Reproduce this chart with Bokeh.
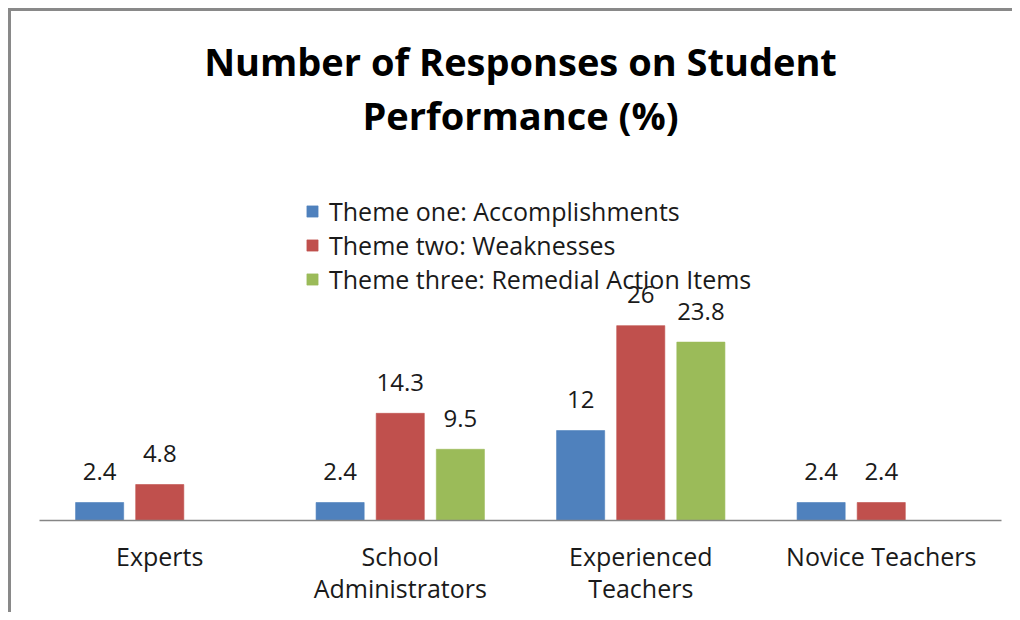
from bokeh.plotting import figure
from bokeh.models import ColumnDataSource, FactorRange, Range1d, Legend, LegendItem, Title
from bokeh.transform import dodge
from bokeh.embed import file_html
from bokeh.resources import INLINE
from bokeh.core.properties import value

categories = ["Experts", "School\nAdministrators", "Experienced\nTeachers", "Novice Teachers"]
series_names = ["Theme one: Accomplishments", "Theme two: Weaknesses", "Theme three: Remedial Action Items"]
theme_one = [2.4, 2.4, 12, 2.4]
theme_two = [4.8, 14.3, 26, 2.4]
theme_three = [float("nan"), 9.5, 23.8, float("nan")]
colors = ["#4F81BD", "#C0504D", "#9BBB59"]
offsets = [-0.25, 0.0, 0.25]
title_lines = ["Number of Responses on Student", "Performance (%)"]

FONT = "Open Sans"

p = figure(
    x_range=FactorRange(factors=categories, range_padding=0),
    y_range=Range1d(0, 50.7),
    width=1004, height=604,
    output_backend="svg", toolbar_location=None,
    min_border_left=28, min_border_right=14,
    min_border_top=129, min_border_bottom=95,
)
p.styles = {"border-top": "3px solid #898989", "border-left": "3px solid #898989",
            "margin-left": "8px", "margin-top": "8px"}

p.title.visible = False
for line in reversed(title_lines):
    p.add_layout(Title(text=line, align="center", text_font=FONT, text_font_size="38px",
                       text_font_style="bold", text_color="#000000", standoff=0), "above")

items = []
for name, vals, col, off in zip(series_names, [theme_one, theme_two, theme_three], colors, offsets):
    labels = ["" if v != v else ("%g" % v) for v in vals]
    src = ColumnDataSource(dict(cat=categories, val=vals, lab=labels))
    r = p.vbar(x=dodge("cat", off, range=p.x_range), top="val", bottom=0, width=0.2,
               source=src, fill_color=col, line_color=col, line_alpha=0.6)
    p.text(x=dodge("cat", off, range=p.x_range), y="val", text="lab", source=src,
           text_align="center", text_baseline="alphabetic", y_offset=-31,
           text_font=value(FONT), text_font_size="24px", text_color="#1a1a1a")
    items.append(LegendItem(label=name, renderers=[r]))

legend = Legend(items=items, location=(266, 224), glyph_width=14, glyph_height=14,
                label_text_font=FONT, label_text_font_size="25px", label_text_color="#1a1a1a",
                label_standoff=10, label_height=33, spacing=0, padding=0, margin=0,
                border_line_alpha=0, background_fill_alpha=0)
p.add_layout(legend, "center")

p.xgrid.visible = False
p.ygrid.visible = False
p.yaxis.visible = False
p.outline_line_color = None
p.xaxis.axis_line_color = "#868686"
p.xaxis.axis_line_width = 1.5
p.xaxis.major_tick_line_color = None
p.xaxis.minor_tick_line_color = None
p.xaxis.major_label_text_font = FONT
p.xaxis.major_label_text_font_size = "25px"
p.xaxis.major_label_text_color = "#1a1a1a"
p.xaxis.major_label_standoff = 12
p.xaxis.major_label_text_line_height = 0.95

open("out.html", "w").write(file_html(p, INLINE))
